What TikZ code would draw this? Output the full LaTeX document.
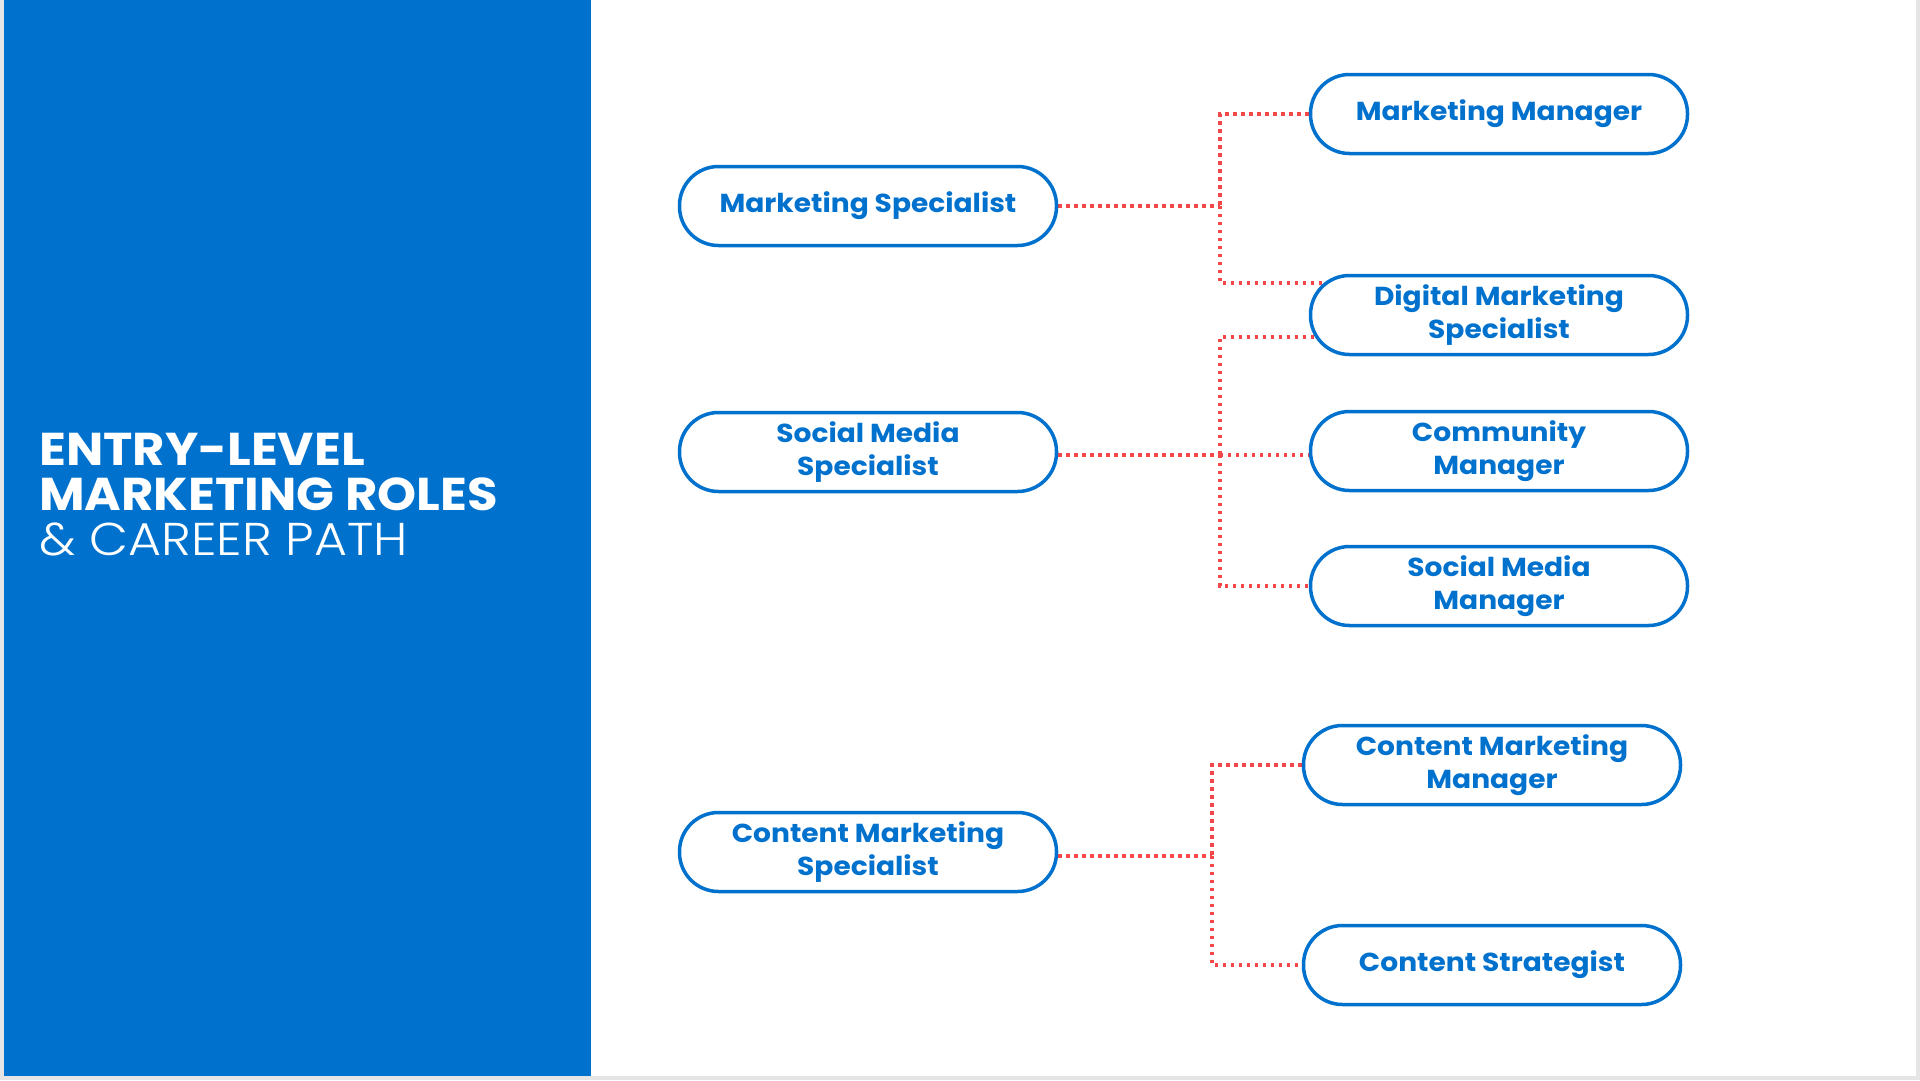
\documentclass[tikz,border=0pt]{standalone}
\usepackage{fontspec}
\setmainfont{Poppins}
\newfontfamily\widefont{Poppins}[FakeStretch=1.08]
\newfontfamily\poplight{Poppins Light}[FakeStretch=1.1]
\usetikzlibrary{backgrounds,calc}
\definecolor{brandblue}{HTML}{0072CE}
\definecolor{dotred}{HTML}{F44848}
\definecolor{edgegray}{HTML}{E5E5E5}
\begin{document}
\begin{tikzpicture}[x=1pt,y=-1pt,
  pill/.style={draw=brandblue, line width=3.5pt, fill=white, rounded corners=39pt,
    minimum width=377pt, minimum height=79pt, inner sep=0pt, text=brandblue,
    font=\widefont\fontsize{26}{33}\selectfont\bfseries, align=center},
  conn/.style={draw=dotred, line width=3.4pt, dash pattern=on 3.4pt off 4.6pt},
  titlebold/.style={anchor=base west, text=white, inner sep=0pt,
    font=\widefont\fontsize{46}{45}\selectfont\bfseries},
  titlelight/.style={anchor=base west, text=white, inner sep=0pt,
    font=\poplight\fontsize{46}{45}\selectfont}]
\useasboundingbox (0,0) rectangle (1920,1080);

% title
\node[titlebold] (tA) at (39,465) {ENTRY-LEVEL};
\node[titlebold] (tB) at (39,510) {MARKETING ROLES};
\node[titlelight] (tC) at (39,555) {\& CAREER PATH};

% entry-level roles
\node[pill] (ms)  at (868,206) {Marketing Specialist};
\node[pill] (sms) at (868,452) {Social Media\\Specialist};
\node[pill] (cms) at (868,852) {Content Marketing\\Specialist};

% career path roles
\node[pill] (mm)  at (1499,114) {Marketing Manager};
\node[pill] (dms) at (1499,315) {Digital Marketing\\Specialist};
\node[pill] (cm)  at (1499,451) {Community\\Manager};
\node[pill] (smm) at (1499,586) {Social Media\\Manager};
\node[pill] (cmm) at (1492,765) {Content Marketing\\Manager};
\node[pill] (cs)  at (1492,965) {Content Strategist};

\begin{scope}[on background layer]
  \fill[edgegray] (0,0) rectangle (1920,1080);
  \fill[white] (4,0) rectangle (1916,1076);
  \fill[brandblue] (4,0) rectangle (591,1076);

  % group 1
  \coordinate (j1) at (1220,206);
  \coordinate (dmsA) at (1335,283);
  \draw[conn] (ms.east) -- (j1);
  \draw[conn] (mm.west) -| (j1);
  \draw[conn] (j1) |- (dmsA);

  % group 2
  \coordinate (j2) at (1220,455);
  \coordinate (dmsB) at (1330,337);
  \draw[conn] (sms.east |- j2) -- (j2);
  \draw[conn] (j2) -- ($(j2 -| cm.west)+(4,0)$);
  \draw[conn] (dmsB) -| (j2);
  \draw[conn] (j2) |- (smm.west);

  % group 3
  \coordinate (j3) at (1212,856);
  \draw[conn] (cms.east |- j3) -- (j3);
  \draw[conn] (cmm.west) -| (j3);
  \draw[conn] (j3) |- (cs.west);
\end{scope}
\end{tikzpicture}
\end{document}
